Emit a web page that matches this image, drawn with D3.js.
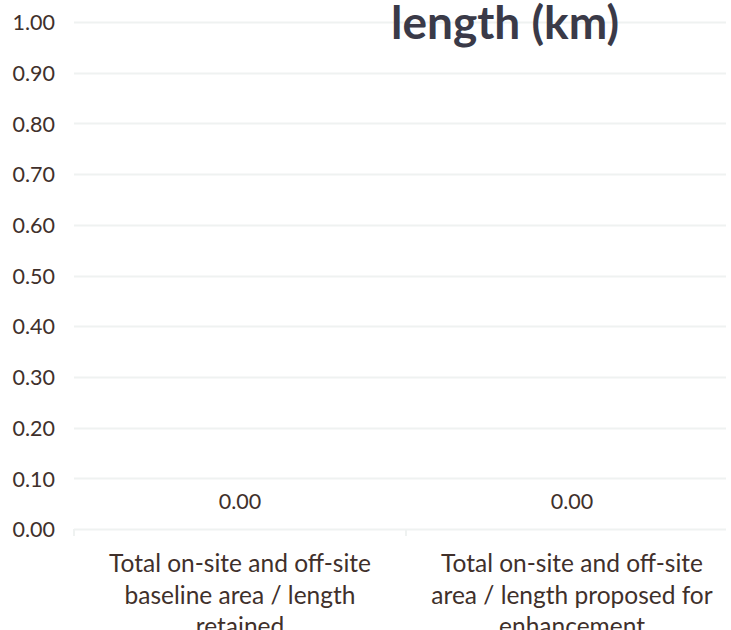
<!DOCTYPE html>
<html>
<head>
<meta charset="utf-8">
<script src="https://cdn.jsdelivr.net/npm/d3@7"></script>
<style>
  body { margin: 0; background: #fff; }
  svg { display: block; }
</style>
</head>
<body>
<div id="chart"></div>
<script>
// chart data
let categories = [
  ["Total on-site and off-site", "baseline area / length", "retained"],
  ["Total on-site and off-site", "area / length proposed for", "enhancement"]
];
let values = [0, 0];
let yTicks = [0, 0.1, 0.2, 0.3, 0.4, 0.5, 0.6, 0.7, 0.8, 0.9, 1.0];
let title = "length (km)";

let svg = d3
    .select("#chart")
    .append("svg")
    .attr("width", 731)
    .attr("height", 630),
  plotLeft = 74,
  plotRight = 738,
  plotTop = 22,
  plotBottom = 529;

let textColor = "#40302b",
  gridColor = "#eff2f1",
  font = "Lato, 'Open Sans', sans-serif";

// scales
let xScale = d3.scaleBand().domain(d3.range(categories.length)).range([plotLeft, plotRight]),
  yScale = d3.scaleLinear().domain([0, 1]).range([plotBottom, plotTop]);

// gridlines
svg
  .append("g")
  .selectAll("line")
  .data(yTicks)
  .enter()
  .append("line")
  .attr("x1", plotLeft)
  .attr("x2", 726)
  .attr("y1", (d) => Math.round(yScale(d)) + 0.5)
  .attr("y2", (d) => Math.round(yScale(d)) + 0.5)
  .style("stroke", gridColor)
  .style("stroke-width", 2);

// y axis labels
let yAxis = svg
  .append("g")
  .attr("transform", "translate(" + 55 + ",0)")
  .call(d3.axisLeft(yScale).tickValues(yTicks).tickFormat(d3.format(".2f")).tickSize(0).tickPadding(0));
yAxis.select(".domain").remove();
yAxis
  .selectAll("text")
  .attr("dy", "0.36em")
  .style("font-family", font)
  .style("font-size", "21.5px")
  .style("fill", textColor);

// category separators on x axis
svg
  .append("g")
  .selectAll("line")
  .data(d3.range(categories.length + 1))
  .enter()
  .append("line")
  .attr("x1", (d) => plotLeft + d * xScale.step())
  .attr("x2", (d) => plotLeft + d * xScale.step())
  .attr("y1", plotBottom)
  .attr("y2", plotBottom + 7)
  .style("stroke", gridColor)
  .style("stroke-width", 2);

// bars (zero height)
svg
  .append("g")
  .selectAll("rect")
  .data(values)
  .enter()
  .append("rect")
  .attr("x", (d, i) => xScale(i) + xScale.bandwidth() * 0.25)
  .attr("width", xScale.bandwidth() * 0.5)
  .attr("y", (d) => yScale(d))
  .attr("height", (d) => yScale(0) - yScale(d))
  .style("fill", "#4472c4");

// data labels
svg
  .append("g")
  .selectAll("text")
  .data(values)
  .enter()
  .append("text")
  .attr("x", (d, i) => xScale(i) + xScale.bandwidth() / 2)
  .attr("y", (d) => yScale(d) - 20)
  .attr("text-anchor", "middle")
  .style("font-family", font)
  .style("font-size", "21.5px")
  .style("fill", textColor)
  .text((d) => d3.format(".2f")(d));

// category labels
let cat = svg
  .append("g")
  .selectAll("text")
  .data(categories)
  .enter()
  .append("text")
  .attr("x", (d, i) => xScale(i) + xScale.bandwidth() / 2)
  .attr("y", 572)
  .attr("text-anchor", "middle")
  .style("font-family", font)
  .style("font-size", "24.5px")
  .style("fill", textColor);
cat
  .selectAll("tspan")
  .data((d) => d)
  .enter()
  .append("tspan")
  .attr("x", function () { return d3.select(this.parentNode).attr("x"); })
  .attr("dy", (d, i) => (i === 0 ? 0 : 31.5))
  .text((d) => d);

// title
svg
  .append("text")
  .attr("x", 505)
  .attr("y", 39)
  .attr("text-anchor", "middle")
  .style("font-family", "Lato, sans-serif")
  .style("font-weight", "bold")
  .style("font-size", "46px")
  .style("fill", "#3a3a48")
  .text(title);
</script>
</body>
</html>
